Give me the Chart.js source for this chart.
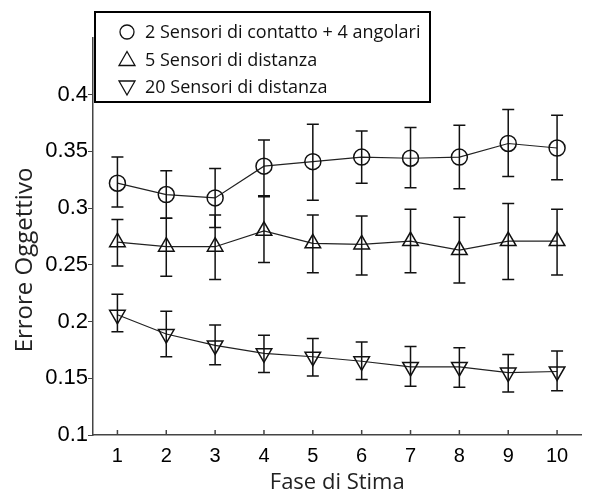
<!DOCTYPE html>
<html>
<head>
<meta charset="utf-8">
<script src="https://cdn.jsdelivr.net/npm/chart.js@4"></script>
<style>
  body { margin: 0; background: #fff; }
  #wrap { width: 592px; height: 492px; }
</style>
</head>
<body>
<div id="wrap"><canvas id="chart" width="592" height="492"></canvas></div>
<script>
const fasi = [1, 2, 3, 4, 5, 6, 7, 8, 9, 10];
const yTicks = [0.1, 0.15, 0.2, 0.25, 0.3, 0.35, 0.4];
const yTitle = "Errore Oggettivo";

const labels = [
  "2 Sensori di contatto + 4 angolari",
  "5 Sensori di distanza",
  "20 Sensori di distanza",
];

// 2 sensori di contatto + 4 angolari
const contatto = [0.322, 0.312, 0.309, 0.337, 0.341, 0.345, 0.344, 0.345, 0.357, 0.353];
const contattoLow = [0.301, 0.291, 0.283, 0.311, 0.307, 0.322, 0.318, 0.317, 0.328, 0.325];
const contattoHigh = [0.345, 0.333, 0.335, 0.360, 0.374, 0.368, 0.371, 0.373, 0.387, 0.382];

// 5 sensori di distanza
const dist5 = [0.270, 0.266, 0.266, 0.280, 0.269, 0.268, 0.271, 0.263, 0.271, 0.271];
const dist5Low = [0.249, 0.240, 0.237, 0.252, 0.243, 0.241, 0.243, 0.234, 0.237, 0.241];
const dist5High = [0.290, 0.291, 0.294, 0.310, 0.294, 0.293, 0.299, 0.292, 0.304, 0.299];

// 20 sensori di distanza
const dist20 = [0.206, 0.189, 0.179, 0.172, 0.169, 0.165, 0.160, 0.160, 0.155, 0.156];
const dist20Low = [0.191, 0.169, 0.162, 0.155, 0.152, 0.149, 0.143, 0.142, 0.138, 0.139];
const dist20High = [0.224, 0.209, 0.197, 0.188, 0.185, 0.182, 0.178, 0.177, 0.171, 0.174];

const toPoints = (vals) => fasi.map((f, i) => ({ x: f, y: vals[i] }));

const errorBars = {
  id: "errorBars",
  afterDatasetsDraw(chart) {
    const { ctx, scales: { x, y }, chartArea } = chart;
    ctx.save();
    ctx.strokeStyle = "#111";
    ctx.lineWidth = 1.5;
    chart.data.datasets.forEach((ds) => {
      ds.low.forEach((lo, i) => {
        const px = x.getPixelForValue(fasi[i]);
        const top = y.getPixelForValue(ds.high[i]);
        const bot = y.getPixelForValue(lo);
        ctx.beginPath();
        ctx.moveTo(px, top);
        ctx.lineTo(px, bot);
        ctx.moveTo(px - 6, top);
        ctx.lineTo(px + 6, top);
        ctx.moveTo(px - 6, bot);
        ctx.lineTo(px + 6, bot);
        ctx.stroke();
      });
    });
    // tick interni sull'asse x
    ctx.strokeStyle = "#444";
    fasi.forEach((f) => {
      const px = x.getPixelForValue(f);
      ctx.beginPath();
      ctx.moveTo(px, chartArea.bottom);
      ctx.lineTo(px, chartArea.bottom - 5);
      ctx.stroke();
    });
    ctx.restore();
  },
  afterDraw(chart) {
    const ctx = chart.ctx;
    ctx.save();
    // titolo asse y
    ctx.translate(25, 260);
    ctx.rotate(-Math.PI / 2);
    ctx.font = "24px 'Open Sans'";
    ctx.fillStyle = "#222";
    ctx.textAlign = "center";
    ctx.textBaseline = "middle";
    ctx.fillText(yTitle, 0, 0);
    ctx.restore();

    ctx.save();
    ctx.fillStyle = "#fff";
    ctx.fillRect(95, 12, 335, 90);
    ctx.strokeStyle = "#000";
    ctx.lineWidth = 2;
    ctx.strokeRect(95, 12, 335, 90);
    ctx.font = "18px 'Open Sans'";
    ctx.textBaseline = "middle";
    ctx.lineWidth = 1.3;
    chart.data.datasets.forEach((ds, i) => {
      const cy = 32 + i * 27.5;
      const cx = 127;
      ctx.strokeStyle = "#111";
      ctx.beginPath();
      if (i === 0) {
        ctx.arc(cx, cy, 7, 0, Math.PI * 2);
      } else if (i === 1) {
        ctx.moveTo(cx, cy - 8);
        ctx.lineTo(cx + 8, cy + 6);
        ctx.lineTo(cx - 8, cy + 6);
        ctx.closePath();
      } else {
        ctx.moveTo(cx, cy + 8);
        ctx.lineTo(cx + 8, cy - 6);
        ctx.lineTo(cx - 8, cy - 6);
        ctx.closePath();
      }
      ctx.stroke();
      ctx.fillStyle = "#111";
      ctx.fillText(ds.label, 145, cy + 1);
    });
    ctx.restore();
  },
};

const common = {
  borderColor: "#222",
  borderWidth: 1.2,
  backgroundColor: "rgba(0,0,0,0)",
  pointBorderColor: "#111",
  pointBorderWidth: 1.5,
  showLine: true,
};

new Chart(document.getElementById("chart"), {
  type: "scatter",
  data: {
    datasets: [
      { ...common, label: labels[0], data: toPoints(contatto), low: contattoLow, high: contattoHigh,
        pointStyle: "circle", pointRadius: 8 },
      { ...common, label: labels[1], data: toPoints(dist5), low: dist5Low, high: dist5High,
        pointStyle: "triangle", pointRadius: 9 },
      { ...common, label: labels[2], data: toPoints(dist20), low: dist20Low, high: dist20High,
        pointStyle: "triangle", rotation: 180, pointRadius: 9 },
    ],
  },
  options: {
    responsive: false,
    animation: false,
    layout: { padding: { top: 38, right: 5, left: 0, bottom: 0 } },
    plugins: { legend: { display: false }, tooltip: { enabled: false } },
    scales: {
      x: {
        type: "linear",
        min: 0.5,
        max: 10.5,
        afterBuildTicks: (axis) => { axis.ticks = fasi.map((v) => ({ value: v })); },
        afterFit: (scale) => { scale.height = 57; },
        grid: { drawOnChartArea: false, drawTicks: false },
        border: { color: "#444", width: 1.5 },
        ticks: { color: "#000", font: { family: "'Liberation Sans', Arial", size: 20 }, padding: 9 },
        title: { display: true, text: "Fase di Stima", color: "#222",
          font: { family: "'Open Sans'", size: 22, lineHeight: 1 }, padding: { top: 0, bottom: -2 } },
      },
      y: {
        min: 0.1,
        max: 0.45,
        afterBuildTicks: (axis) => { axis.ticks = yTicks.map((v) => ({ value: v })); },
        afterFit: (scale) => { scale.width = 93; },
        grid: { drawOnChartArea: false, tickLength: 5, color: "#444" },
        border: { color: "#444", width: 1.5 },
        ticks: { color: "#000", font: { family: "'Liberation Sans', Arial", size: 22 }, padding: 0,
          callback: (v) => String(v) },
        title: { display: false },
      },
    },
  },
  plugins: [errorBars],
});
</script>
</body>
</html>
